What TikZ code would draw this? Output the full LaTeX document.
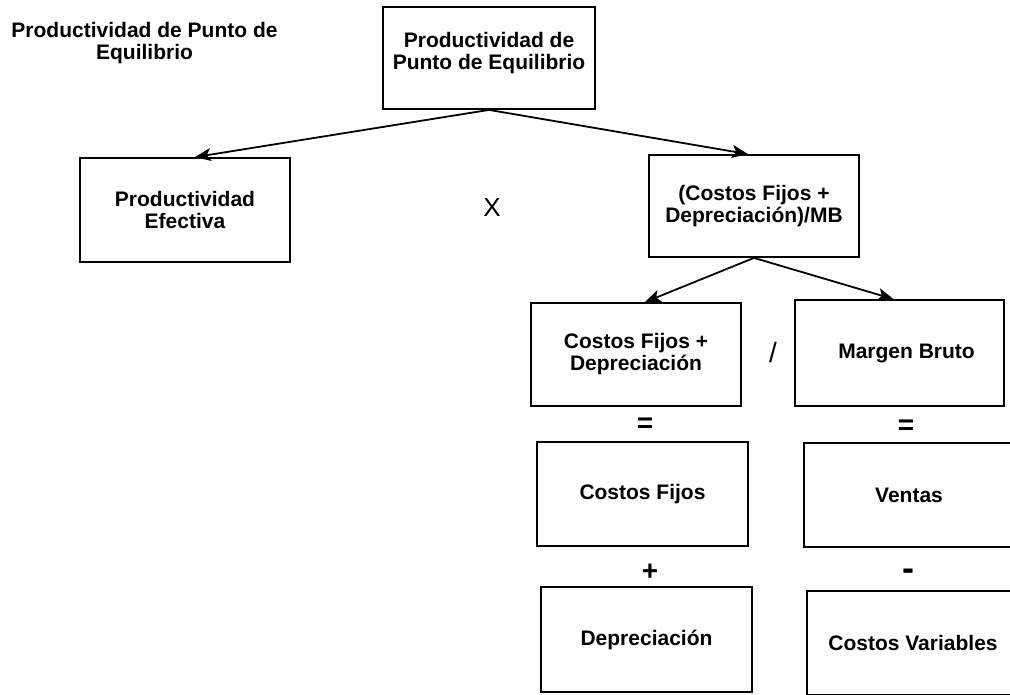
\documentclass[tikz,border=0pt]{standalone}
\usepackage{fontspec}
\setmainfont{Liberation Sans}
\usetikzlibrary{arrows.meta}

\begin{document}
\begin{tikzpicture}[x=1pt,y=-1pt,
  caja/.style={draw=black, line width=1.8pt, minimum width=210pt, minimum height=103pt,
    align=center, font=\bfseries\fontsize{21}{22}\selectfont},
  flecha/.style={line width=1.8pt, -{Stealth[length=16pt,width=13pt,inset=4pt]}},
  signo/.style={font=\fontsize{28}{30}\selectfont}]
\tikzstyle{every node}+=[inner sep=0pt]
\clip (0,0) rectangle (1010,694);
\node [align=center, font=\bfseries\fontsize{21}{22}\selectfont] (titulo) at (144.5,43) {Productividad de Punto de\\Equilibrio};
\node [caja, minimum width=212pt, minimum height=102pt, text depth=14pt] (pe) at (489,58) {Productividad de\\Punto de Equilibrio};
\node [caja, minimum height=104pt] (efec) at (185,210) {Productividad\\Efectiva};
\node [caja, minimum height=102pt] (cfmb) at (754,206) {(Costos Fijos +\\Depreciación)/MB};
\node [caja] (cfdep) at (636,354.5) {Costos Fijos +\\Depreciación};
\node [caja, minimum width=209pt, minimum height=106pt] (mb) at (899.5,353) {\hspace*{14pt}Margen Bruto};
\node [caja, minimum width=211pt, minimum height=104pt] (cf) at (642.5,494) {Costos Fijos};
\node [caja, minimum height=104pt] (ventas) at (909,495) {Ventas};
\node [caja, minimum width=211pt, minimum height=105pt] (dep) at (646.5,639.5) {Depreciación};
\node [caja, minimum width=212pt, minimum height=104pt] (cv) at (913,643) {Costos Variables};
\node [signo, font=\fontsize{26}{28}\selectfont] (por) at (492,208) {X};
\node [signo] (entre) at (773,352) {/};
\node [signo, font=\bfseries\fontsize{28}{30}\selectfont] (igual1) at (645,425) {=};
\node [signo, font=\bfseries\fontsize{28}{30}\selectfont] (igual2) at (906,427) {=};
\node [signo, font=\bfseries\fontsize{28}{30}\selectfont] (mas) at (650,572) {+};
\node [signo, font=\bfseries\fontsize{36}{38}\selectfont] (menos) at (908,575) {-};
\draw [flecha] (pe.south) -- ([xshift=10pt]efec.north);
\draw [flecha] (pe.south) -- ([xshift=-6pt]cfmb.north);
\draw [flecha] (cfmb.south) -- ([xshift=9pt]cfdep.north);
\draw [flecha] (cfmb.south) -- ([xshift=-6pt]mb.north);
\end{tikzpicture}
\end{document}
